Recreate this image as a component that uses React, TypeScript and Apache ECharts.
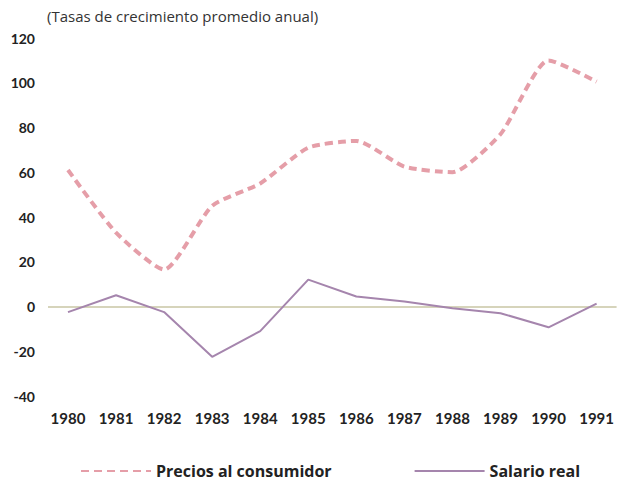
import React, { useEffect, useRef } from "react";
import * as echarts from "echarts";

const years = [1980, 1981, 1982, 1983, 1984, 1985, 1986, 1987, 1988, 1989, 1990, 1991];
const precios = [61, 33, 16.5, 45, 55, 71, 74, 62.5, 60, 77, 110, 100.5];
const salario = [-2.5, 5, -2.5, -22.5, -11, 12, 4.5, 2.2, -0.8, -3, -9.3, 1.3];
const yTicks = [-40, -20, 0, 20, 40, 60, 80, 100, 120];
const seriesNames = ["Precios al consumidor", "Salario real"];
const titleText = "(Tasas de crecimiento promedio anual)";

const FONT = "Lato, 'Open Sans', sans-serif";
const FONT2 = "'Open Sans', Lato, sans-serif";

export default function App() {
  const ref = useRef<HTMLDivElement>(null);
  useEffect(() => {
    if (!ref.current) return;
    const chart = echarts.init(ref.current, undefined, { renderer: "svg" });
    chart.setOption({
      animation: false,
      backgroundColor: "#ffffff",
      title: {
        text: titleText,
        left: 42,
        top: 3,
        textStyle: { fontFamily: FONT2, fontSize: 15, fontWeight: "normal", color: "#333" },
      },
      grid: { left: 48, right: 0, top: 38, bottom: 92, containLabel: false },
      legend: {
        left: 75,
        top: 458,
        itemWidth: 70,
        itemHeight: 14,
        itemGap: 82,
        data: seriesNames,
        itemStyle: { opacity: 0 },
        textStyle: {
          fontFamily: FONT2,
          fontSize: 16,
          fontWeight: "bold",
          color: "#222",
        },
      },
      xAxis: {
        type: "value",
        min: 1979.584,
        max: 1991.416,
        axisLine: { show: false, onZero: false },
        axisTick: { show: false },
        splitLine: { show: false },
        axisLabel: {
          customValues: years,
          formatter: (v: number) => String(Math.round(v)),
          margin: 14,
          fontFamily: FONT,
          fontSize: 15,
          fontWeight: "bold",
          color: "#222",
        },
      },
      yAxis: {
        type: "value",
        min: yTicks[0],
        max: yTicks[yTicks.length - 1],
        interval: 20,
        axisLine: { show: false },
        axisTick: { show: false },
        splitLine: { show: false },
        axisLabel: {
          margin: 13,
          fontFamily: FONT,
          fontSize: 14,
          fontWeight: "bold",
          color: "#222",
        },
      },
      series: [
        {
          name: seriesNames[0],
          type: "line",
          data: years.map((y, i) => [y, precios[i]]),
          showSymbol: false,
          symbol: "none",
          smooth: 0.2,
          lineStyle: { color: "#e59ea8", width: 4, type: [8, 5] },
          itemStyle: { color: "#e59ea8" },
        },
        {
          name: seriesNames[1],
          type: "line",
          data: years.map((y, i) => [y, salario[i]]),
          showSymbol: false,
          symbol: "none",
          lineStyle: { color: "#a585ad", width: 2 },
          itemStyle: { color: "#a585ad" },
          markLine: {
            silent: true,
            symbol: "none",
            label: { show: false },
            lineStyle: { color: "#c9c6a4", width: 1.5, type: "solid" },
            data: [{ yAxis: 0 }],
            z: 1,
          },
        },
      ],
    });
    return () => chart.dispose();
  }, []);
  return <div ref={ref} style={{ width: 617, height: 488, position: "absolute", left: 0, top: 0 }} />;
}
